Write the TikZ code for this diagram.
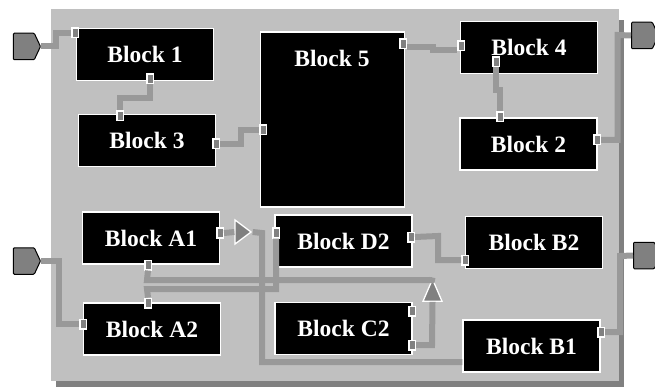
\documentclass[tikz,border=0pt]{standalone}
\usepackage{fontspec}
\setmainfont{Liberation Serif}
\usepackage{tikz}
\usetikzlibrary{shapes.geometric, shapes.symbols}
\definecolor{panelgray}{RGB}{192, 192, 192}
\definecolor{wiregray}{RGB}{153, 153, 153}
\definecolor{darkgray}{RGB}{128, 128, 128}

\begin{document}
\begin{tikzpicture}[x=1pt, y=-1pt, font=\fontsize{23.5}{26}\selectfont\bfseries,
        block/.style={rectangle, draw=white, fill=black, text=white, line width=1.3pt, inner sep=0pt, minimum width=137pt, minimum height=52pt},
        blocktext/.style={text=white, inner sep=0pt},
        port/.style={rectangle, draw=white, fill=darkgray, line width=1.5pt, inner sep=0pt, minimum width=6.5pt, minimum height=9.5pt},
        pad/.style={signal, signal to=east, signal pointer angle=130, rounded corners=1pt, draw=black, fill=darkgray, line width=1pt, inner sep=0pt, minimum width=27pt, minimum height=26.5pt},
        buffer/.style={isosceles triangle, isosceles triangle stretches, draw=white, fill=darkgray, line width=1.3pt, inner sep=0pt, minimum width=24pt, minimum height=16pt},
        wire/.style={draw=wiregray, line width=6pt}
    ]
        \useasboundingbox (0,0) rectangle (655,387);
        \fill[darkgray] (56,20) rectangle (624,387);
        \fill[panelgray] (51,9) rectangle (619,381);

        % blocks
        \node[block] (b1) at (145,54.5) {Block 1};
        \node[block] (b3) at (147,140.5) {Block 3};
        \node[block, minimum width=144pt, minimum height=175pt] (b5) at (332.5,119.5) {};
        \node[blocktext] (b5text) at (332,58) {Block 5};
        \node[block] (b4) at (529,47.5) {Block 4};
        \node[block] (b2) at (528.5,144) {Block 2};
        \node[block] (a1) at (151,238) {Block A1};
        \node[block] (a2) at (152,329) {Block A2};
        \node[block] (d2) at (343.5,241) {Block D2};
        \node[block] (b2r) at (534,242.5) {Block B2};
        \node[block] (c2) at (343.5,328.5) {Block C2};
        \node[block] (b1r) at (531.5,346) {Block B1};

        % ports
        \node[port] (b1w) at (75,33) {};
        \node[port] (b1s) at (150,79) {};
        \node[port] (b3n) at (120,116) {};
        \node[port] (b3e) at (216,144) {};
        \node[port] (b5w) at (263,130) {};
        \node[port] (b5e) at (403,44) {};
        \node[port] (b4w) at (461,46) {};
        \node[port] (b4s) at (496,62) {};
        \node[port] (b2n) at (500,117) {};
        \node[port] (b2e) at (597,140) {};
        \node[port] (a1e) at (220,233) {};
        \node[port] (a1s) at (148,265) {};
        \node[port] (a2n) at (148,303) {};
        \node[port] (a2w) at (83,324) {};
        \node[port] (d2w) at (276,233) {};
        \node[port] (d2e) at (411,237) {};
        \node[port] (b2rw) at (465,260) {};
        \node[port] (c2ne) at (412,311) {};
        \node[port] (c2se) at (412,345) {};
        \node[port] (b1re) at (601,332) {};

        % pads and buffers
        \node[pad, anchor=east] (padA) at (41,46.5) {};
        \node[pad, anchor=east] (padB) at (41,261) {};
        \node[pad, anchor=west] (padC) at (631,35.5) {};
        \node[pad, anchor=west] (padD) at (633,255.5) {};
        \node[buffer] (bufA) at (241,232) {};
        \node[buffer, shape border rotate=90, minimum width=19pt, minimum height=22pt] (bufB) at (432.5,295) {};

        % wires
        \draw[wire] (padA.east) -- (56,46.5) -- (56,33) -- (b1w.west);
        \draw[wire] (b1s.south) -- (150,98) -- (120,98) -- (b3n.north);
        \draw[wire] (b3e.east) -- (241,144) -- (241,130) -- (b5w.west);
        \draw[wire] ([yshift=-3pt]b5e.east) -- (433,47) -- (433,50) -- ([yshift=-4pt]b4w.west);
        \draw[wire] (b4s.south) -- (496,90) -- (500,90) -- (b2n.north);
        \draw[wire] (b2e.east) -- (617.5,140) -- (617.5,35) -- (padC.west);
        \draw[wire] (padB.east) -- (59,261) -- (59,324) -- (a2w.west);
        \draw[wire] (a1e.east) -- (bufA.west);
        \draw[wire] (bufA.east) -- (262,233) -- (262,362) -- (b1r.west |- 0,362);
        \draw[wire] (a1s.south) -- (147,280) -- (432,280) -- (bufB.north);
        \draw[wire] (a2n.north) -- (147,289) -- (276,289) -- (d2w.south);
        \draw[wire] (d2e.east) -- (438,236) -- (438,260) -- (b2rw.west);
        \draw[wire] (c2se.east) -- (432,345) -- (bufB.south);
        \draw[wire] (b1re.east) -- (620,332) -- (620,256) -- (padD.west);
    \end{tikzpicture}
\end{document}
